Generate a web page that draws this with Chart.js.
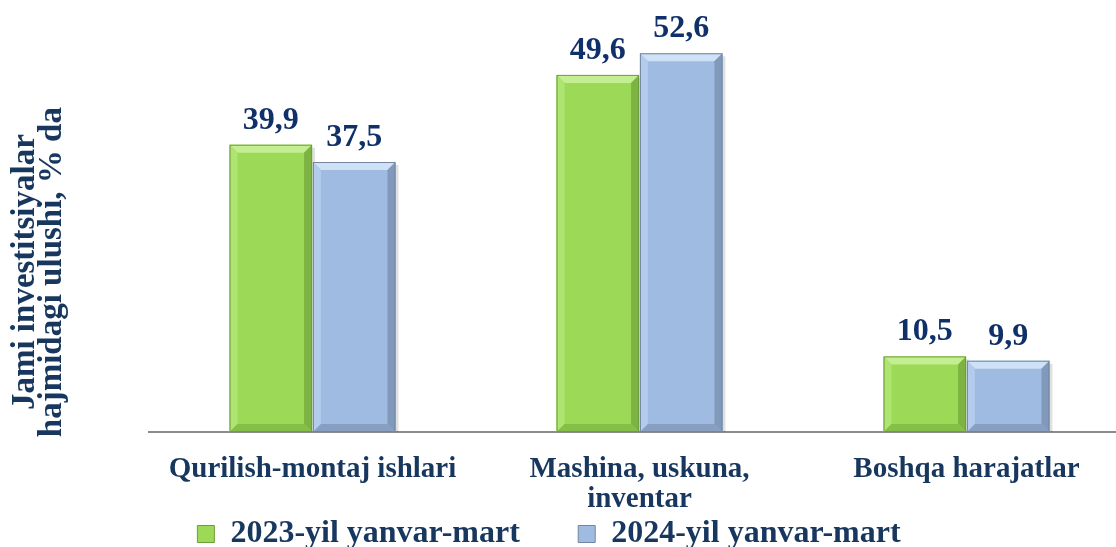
<!DOCTYPE html>
<html>
<head>
<meta charset="utf-8">
<script src="https://cdn.jsdelivr.net/npm/chart.js@4.4.0/dist/chart.umd.min.js"></script>
<style>
  html, body { margin: 0; padding: 0; background: #fff; overflow: hidden; }
  #wrap { position: relative; width: 1130px; height: 560px; }
</style>
</head>
<body>
<div id="wrap"><canvas id="investChart"></canvas></div>
<script>
const categories = [['Qurilish-montaj ishlari'], ['Mashina, uskuna,', 'inventar'], ['Boshqa harajatlar']];
const seriesNames = ['2023-yil yanvar-mart', '2024-yil yanvar-mart'];
const values2023 = [39.9, 49.6, 10.5];
const values2024 = [37.5, 52.6, 9.9];
const axisTitle = ['Jami investitsiyalar', 'hajmidagi ulushi, % da'];

const FONT = "'Liberation Serif', 'Times New Roman', serif";
const NAVY = '#17375E';
const EM = '\u2003';

function poly(ctx, pts, color) {
  ctx.beginPath();
  ctx.moveTo(pts[0][0], pts[0][1]);
  for (let i = 1; i < pts.length; i++) ctx.lineTo(pts[i][0], pts[i][1]);
  ctx.closePath();
  ctx.fillStyle = color;
  ctx.fill();
}

// soft shadow behind the bars
const shadowPlugin = {
  id: 'barShadow',
  beforeDatasetsDraw(chart) {
    const ctx = chart.ctx;
    ctx.save();
    ctx.fillStyle = 'rgba(0,0,0,0.12)';
    chart.data.datasets.forEach((ds, i) => {
      chart.getDatasetMeta(i).data.forEach(bar => {
        const p = bar.getProps(['x', 'y', 'base', 'width'], true);
        ctx.fillRect(p.x - p.width / 2 + 3, p.y + 3, p.width, p.base - p.y - 3);
      });
    });
    ctx.restore();
  }
};

// draws the bevelled edges on top of each bar
const bevelPlugin = {
  id: 'bevel',
  afterDatasetsDraw(chart) {
    const ctx = chart.ctx;
    ctx.save();
    chart.data.datasets.forEach((ds, i) => {
      chart.getDatasetMeta(i).data.forEach(bar => {
        const p = bar.getProps(['x', 'y', 'base', 'width'], true);
        const l = p.x - p.width / 2, r = p.x + p.width / 2, t = p.y, b = p.base;
        const d = 8;
        poly(ctx, [[l, t], [r, t], [r - d, t + d], [l + d, t + d]], ds.bevel.top);
        poly(ctx, [[l, t], [l + d, t + d], [l + d, b - d], [l, b]], ds.bevel.left);
        poly(ctx, [[r, t], [r, b], [r - d, b - d], [r - d, t + d]], ds.bevel.right);
        poly(ctx, [[l, b], [l + d, b - d], [r - d, b - d], [r, b]], ds.bevel.bottom);
        ctx.strokeStyle = ds.borderColor;
        ctx.lineWidth = 1;
        ctx.strokeRect(l + 0.5, t + 0.5, p.width - 1, b - t - 1);
      });
    });
    ctx.restore();
  }
};

// value labels above the bars
const valueLabels = {
  id: 'valueLabels',
  afterDatasetsDraw(chart) {
    const ctx = chart.ctx;
    ctx.save();
    ctx.font = 'bold 32px ' + FONT;
    ctx.fillStyle = '#10306a';
    ctx.textAlign = 'center';
    ctx.textBaseline = 'alphabetic';
    chart.data.datasets.forEach((ds, i) => {
      chart.getDatasetMeta(i).data.forEach((bar, j) => {
        const txt = ds.data[j].toFixed(1).replace('.', ',');
        ctx.fillText(txt, bar.x, bar.y - 16);
      });
    });
    ctx.restore();
  }
};

const ctx = document.getElementById('investChart');

new Chart(ctx, {
  type: 'bar',
  data: {
    labels: categories,
    datasets: [
      {
        label: seriesNames[0],
        data: values2023,
        backgroundColor: '#9bd957',
        borderColor: '#6f9c3c',
        bevel: { top: '#c3ee92', left: '#aee470', right: '#7db342', bottom: '#84bf48' },
      },
      {
        label: seriesNames[1],
        data: values2024,
        backgroundColor: '#9fbbe2',
        borderColor: '#73859f',
        bevel: { top: '#cfe1f6', left: '#b3cbec', right: '#8199bb', bottom: '#889fc2' },
      },
    ],
  },
  options: {
    responsive: true,
    maintainAspectRatio: false,
    animation: false,
    layout: { padding: 0 },
    datasets: {
      bar: { barPercentage: 0.99, categoryPercentage: 0.51 },
    },
    plugins: {
      tooltip: { enabled: false },
      legend: {
        position: 'bottom',
        labels: {
          boxWidth: 17,
          boxHeight: 17,
          padding: 4,
          color: NAVY,
          font: { family: FONT, size: 32, weight: 'bold' },
          generateLabels(chart) {
            // trailing spaces only widen the gap between the two entries
            const pad = [EM + '\u2002\u2009', EM];
            return chart.data.datasets.map((ds, i) => ({
              text: ds.label + pad[i],
              fillStyle: ds.backgroundColor,
              strokeStyle: ds.borderColor,
              lineWidth: 1,
              fontColor: NAVY,
              datasetIndex: i,
            }));
          },
        },
      },
    },
    scales: {
      x: {
        grid: { display: false, drawTicks: false },
        border: { display: true, color: '#8c8c8c', width: 2 },
        ticks: {
          color: NAVY,
          padding: 23,
          font: { family: FONT, size: 29, weight: 'bold', lineHeight: '30px' },
          maxRotation: 0,
        },
        afterFit(scale) {
          // keep the legend close under the category labels
          scale.height = 82;
        },
      },
      y: {
        min: 0,
        max: 60,
        grid: { display: false, drawTicks: false },
        border: { display: false },
        ticks: { display: false },
        title: {
          display: true,
          text: axisTitle.map(t => t + EM + EM + EM + '\u2009\u2009'),
          color: NAVY,
          padding: { top: 12, bottom: 83 },
          font: { family: FONT, size: 33, weight: 'bold', lineHeight: '27px' },
        },
      },
    },
  },
  plugins: [shadowPlugin, bevelPlugin, valueLabels],
});
</script>
</body>
</html>
